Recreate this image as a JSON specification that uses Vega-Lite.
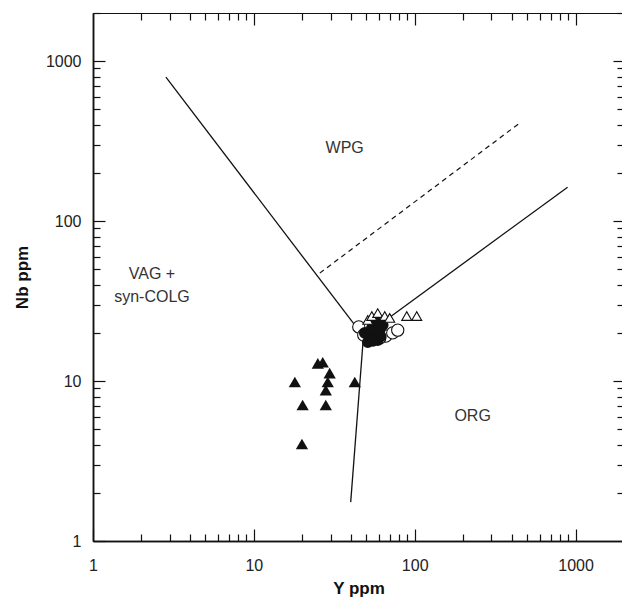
{
  "$schema": "https://vega.github.io/schema/vega-lite/v6.json",
  "width": 531,
  "height": 528,
  "autosize": {"type": "none"},
  "padding": {"left": 93, "top": 13, "right": 0, "bottom": 60},
  "background": "white",
  "config": {
    "view": {"stroke": null},
    "axis": {
      "grid": false,
      "domainColor": "#111",
      "domainWidth": 1.5,
      "tickColor": "#111",
      "tickWidth": 1.2,
      "labelFont": "Liberation Sans",
      "labelFontSize": 16,
      "labelColor": "#222",
      "labelFlush": false,
      "labelOverlap": false,
      "titleFont": "Liberation Sans",
      "titleFontSize": 17,
      "titleFontWeight": "bold",
      "titleColor": "#111"
    }
  },
  "datasets": {
    "lines": [
      {"Y1": 2.84, "N1": 794, "Y2": 48, "N2": 19},
      {"Y1": 48, "N1": 19, "Y2": 40, "N2": 1.75},
      {"Y1": 48, "N1": 19, "Y2": 892, "N2": 163}
    ],
    "dashed": [
      {"Y1": 25.7, "N1": 47.3, "Y2": 449, "N2": 410}
    ],
    "filledTri": [
      {"Y": 17.98, "Nb": 9.86},
      {"Y": 20.1, "Nb": 7.08},
      {"Y": 19.9, "Nb": 4.04},
      {"Y": 24.98, "Nb": 12.9},
      {"Y": 26.8, "Nb": 13.1},
      {"Y": 29.6, "Nb": 11.2},
      {"Y": 28.8, "Nb": 9.86},
      {"Y": 28.0, "Nb": 8.78},
      {"Y": 28.0, "Nb": 7.08},
      {"Y": 42.4, "Nb": 9.86}
    ],
    "openTri": [
      {"Y": 51.1, "Nb": 24.1},
      {"Y": 54.1, "Nb": 25.5},
      {"Y": 58.9, "Nb": 26.6},
      {"Y": 65.1, "Nb": 25.5},
      {"Y": 69.9, "Nb": 24.8},
      {"Y": 89.2, "Nb": 25.5},
      {"Y": 102.9, "Nb": 25.5}
    ],
    "filledCirc": [
      {"Y": 48.9, "Nb": 20.0},
      {"Y": 52.5, "Nb": 18.6},
      {"Y": 56.4, "Nb": 19.4},
      {"Y": 60.6, "Nb": 20.8},
      {"Y": 54.1, "Nb": 21.4},
      {"Y": 58.9, "Nb": 18.0},
      {"Y": 51.1, "Nb": 17.5},
      {"Y": 55.0, "Nb": 17.8},
      {"Y": 63.3, "Nb": 22.4},
      {"Y": 57.3, "Nb": 23.4},
      {"Y": 61.5, "Nb": 19.0}
    ],
    "openCirc": [
      {"Y": 44.9, "Nb": 21.8},
      {"Y": 66.1, "Nb": 19.1},
      {"Y": 73.0, "Nb": 20.0},
      {"Y": 78.4, "Nb": 20.8},
      {"Y": 48.2, "Nb": 19.4},
      {"Y": 60.6, "Nb": 18.6}
    ],
    "labels": [
      {"Y": 36.7, "Nb": 286, "label": "WPG", "align": "center"},
      {"Y": 2.325, "Nb": 46.6, "label": "VAG +", "align": "left"},
      {"Y": 2.325, "Nb": 33.5, "label": "syn-COLG", "align": "left"},
      {"Y": 229, "Nb": 6.04, "label": "ORG", "align": "center"}
    ]
  },
  "resolve": {"axis": {"x": "independent", "y": "independent"}},
  "layer": [
    {
      "data": {"name": "lines"},
      "mark": {"type": "rule", "color": "#111", "strokeWidth": 1.3},
      "encoding": {
        "x": {"field": "Y1", "type": "quantitative",
          "scale": {"type": "log", "domain": [1, 2000], "nice": false},
          "axis": {"orient": "bottom", "values": [2,3,4,5,6,7,8,9,20,30,40,50,60,70,80,90,200,300,400,500,600,700,800,900,2000], "labels": false, "tickSize": -7, "title": null}},
        "y": {"field": "N1", "type": "quantitative",
          "scale": {"type": "log", "domain": [1, 2000], "nice": false},
          "axis": {"orient": "left", "values": [2,3,4,5,6,7,8,9,20,30,40,50,60,70,80,90,200,300,400,500,600,700,800,900,2000], "labels": false, "tickSize": -7, "title": null}},
        "x2": {"field": "Y2"},
        "y2": {"field": "N2"}
      }
    },
    {
      "data": {"name": "dashed"},
      "mark": {"type": "rule", "color": "#111", "strokeWidth": 1.2, "strokeDash": [5, 4]},
      "encoding": {
        "x": {"field": "Y1", "type": "quantitative",
          "scale": {"type": "log", "domain": [1, 2000], "nice": false},
          "axis": {"orient": "bottom", "values": [1, 10, 100, 1000], "format": "d", "tickSize": -12, "labelPadding": 28,
            "title": "Y ppm", "titleX": 265.5, "titleY": 52, "titleBaseline": "alphabetic"}},
        "y": {"field": "N1", "type": "quantitative",
          "scale": {"type": "log", "domain": [1, 2000], "nice": false},
          "axis": {"orient": "left", "values": [1, 10, 100, 1000], "format": "d", "tickSize": -12, "labelPadding": 24,
            "title": "Nb ppm", "titleX": -66, "titleY": 264, "titleBaseline": "alphabetic"}},
        "x2": {"field": "Y2"},
        "y2": {"field": "N2"}
      }
    },
    {
      "data": {"name": "openCirc"},
      "mark": {"type": "point", "shape": "circle", "filled": false, "fill": "white", "fillOpacity": 1, "stroke": "#111", "strokeWidth": 1.1, "size": 150, "opacity": 1},
      "encoding": {
        "x": {"field": "Y", "type": "quantitative",
          "scale": {"type": "log", "domain": [1, 2000], "nice": false},
          "axis": {"orient": "top", "values": [2,3,4,5,6,7,8,9,20,30,40,50,60,70,80,90,200,300,400,500,600,700,800,900,2000], "labels": false, "tickSize": -7, "title": null, "domainWidth": 1}},
        "y": {"field": "Nb", "type": "quantitative",
          "scale": {"type": "log", "domain": [1, 2000], "nice": false},
          "axis": {"orient": "right", "values": [2,3,4,5,6,7,8,9,20,30,40,50,60,70,80,90,200,300,400,500,600,700,800,900,2000], "labels": false, "tickSize": -7, "title": null}}
      }
    },
    {
      "data": {"name": "filledCirc"},
      "mark": {"type": "point", "shape": "circle", "filled": true, "color": "#111", "size": 135, "opacity": 1},
      "encoding": {
        "x": {"field": "Y", "type": "quantitative",
          "scale": {"type": "log", "domain": [1, 2000], "nice": false},
          "axis": {"orient": "top", "values": [10, 100, 1000], "labels": false, "tickSize": -12, "title": null, "domainWidth": 1}},
        "y": {"field": "Nb", "type": "quantitative",
          "scale": {"type": "log", "domain": [1, 2000], "nice": false},
          "axis": {"orient": "right", "values": [10, 100, 1000], "labels": false, "tickSize": -11, "title": null}}
      }
    },
    {
      "data": {"name": "openTri"},
      "mark": {"type": "point", "shape": "triangle-up", "filled": false, "fill": "white", "fillOpacity": 1, "stroke": "#111", "strokeWidth": 1.1, "size": 100, "opacity": 1},
      "encoding": {
        "x": {"field": "Y", "type": "quantitative",
          "scale": {"type": "log", "domain": [1, 2000], "nice": false}, "axis": null},
        "y": {"field": "Nb", "type": "quantitative",
          "scale": {"type": "log", "domain": [1, 2000], "nice": false}, "axis": null}
      }
    },
    {
      "data": {"name": "filledTri"},
      "mark": {"type": "point", "shape": "triangle-up", "filled": true, "color": "#111", "size": 150, "opacity": 1},
      "encoding": {
        "x": {"field": "Y", "type": "quantitative",
          "scale": {"type": "log", "domain": [1, 2000], "nice": false}, "axis": null},
        "y": {"field": "Nb", "type": "quantitative",
          "scale": {"type": "log", "domain": [1, 2000], "nice": false}, "axis": null}
      }
    },
    {
      "data": {"name": "labels"},
      "mark": {"type": "text", "font": "Liberation Sans", "fontSize": 16, "color": "#333", "baseline": "middle"},
      "encoding": {
        "x": {"field": "Y", "type": "quantitative",
          "scale": {"type": "log", "domain": [1, 2000], "nice": false}, "axis": null},
        "y": {"field": "Nb", "type": "quantitative",
          "scale": {"type": "log", "domain": [1, 2000], "nice": false}, "axis": null},
        "text": {"field": "label"},
        "align": {"field": "align", "type": "nominal", "scale": null}
      }
    }
  ]
}
